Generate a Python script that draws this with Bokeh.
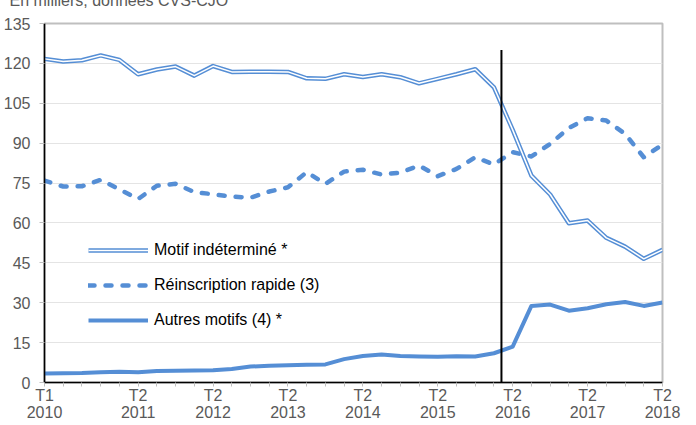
from bokeh.plotting import figure
from bokeh.models import FixedTicker, Legend, LegendItem, Range1d
from bokeh.embed import file_html
from bokeh.resources import INLINE

# ---- data -------------------------------------------------------------
years = list(range(2010, 2019))
quarters = [f"T{q} {y}" for y in years for q in (1, 2, 3, 4)][:34]  # T1 2010 .. T2 2018

motif_indetermine = [121.7, 120.7, 121.2, 123.0, 121.3, 115.9, 117.7, 118.8, 115.4, 119.0,
                     116.8, 116.9, 116.9, 116.8, 114.4, 114.2, 115.9, 114.9, 115.9, 114.8,
                     112.5, 114.2, 115.9, 117.8, 111.0, 95.0, 77.8, 70.7, 59.9, 60.9,
                     54.4, 51.1, 46.5, 49.9]
reinscription_rapide = [75.9, 73.7, 73.8, 76.2, 72.6, 69.0, 74.0, 74.7, 71.6, 70.8,
                        69.9, 69.5, 71.8, 73.4, 79.1, 74.7, 79.3, 80.0, 78.2, 78.9,
                        81.6, 77.6, 80.3, 84.7, 82.0, 86.6, 85.0, 89.7, 95.7, 99.4,
                        98.5, 93.5, 84.7, 89.5]
autres_motifs = [3.4, 3.5, 3.6, 3.9, 4.0, 3.9, 4.3, 4.4, 4.5, 4.6,
                 5.1, 6.0, 6.3, 6.5, 6.7, 6.8, 8.8, 10.0, 10.5, 10.0,
                 9.8, 9.7, 9.9, 9.8, 11.0, 13.5, 28.8, 29.3, 27.0, 27.9,
                 29.4, 30.3, 28.8, 30.1]

series_names = ["Motif indéterminé *", "Réinscription rapide (3)", "Autres motifs (4) *"]
x_tick_labels = {"T1 2010": "T1\n2010", "T2 2011": "T2\n2011", "T2 2012": "T2\n2012",
                 "T2 2013": "T2\n2013", "T2 2014": "T2\n2014", "T2 2015": "T2\n2015",
                 "T2 2016": "T2\n2016", "T2 2017": "T2\n2017", "T2 2018": "T2\n2018"}
y_ticks = [0, 15, 30, 45, 60, 75, 90, 105, 120, 135]
marker_x = [24.4]      # vertical marker (quarter position)
marker_top = [125]
marker_bottom = [0]
subtitle = "En milliers, données CVS-CJO"

# ---- figure -----------------------------------------------------------
FONT = "Liberation Sans"
BLUE = "#558ED5"
xs = list(range(len(quarters)))
SHIFT = 30   # canvas starts above the window top so the subtitle is cut like the original

p = figure(width=696, height=425 + SHIFT, output_backend="svg", toolbar_location=None,
           x_range=Range1d(0, len(quarters) - 1), y_range=Range1d(0, 135),
           min_border_left=43, min_border_right=34, min_border_top=23 + SHIFT,
           min_border_bottom=43,
           background_fill_color="white", border_fill_color="white")
p.margin = (-SHIFT, 0, 0, 0)

p.title.text = subtitle
p.title.align = "left"
p.title.offset = -35
p.title.standoff = 29
p.title.vertical_align = "bottom"
p.title.text_font = FONT
p.title.text_font_size = "16px"
p.title.text_font_style = "normal"
p.title.text_color = "#595959"

p.xgrid.visible = False
p.ygrid.ticker = FixedTicker(ticks=y_ticks)
p.ygrid.grid_line_color = "#e4e4e4"
p.ygrid.grid_line_width = 1
p.outline_line_color = "#bfbfbf"
p.outline_line_width = 2

# axes
p.xaxis.ticker = FixedTicker(ticks=xs)
p.xaxis.major_label_overrides = {i: x_tick_labels.get(q, "") for i, q in enumerate(quarters)}
p.yaxis.ticker = FixedTicker(ticks=y_ticks)
for ax in (p.xaxis[0], p.yaxis[0]):
    ax.axis_line_color = "black"
    ax.axis_line_width = 1.6
    ax.major_tick_line_color = "#bfbfbf"
    ax.major_tick_line_width = 1
    ax.major_tick_in = 0
    ax.minor_tick_out = 0
    ax.minor_tick_in = 0
    ax.major_label_text_font = FONT
    ax.major_label_text_font_size = "16px"
    ax.major_label_text_color = "#595959"
p.xaxis.major_tick_out = 4
p.xaxis.major_label_standoff = 0
p.xaxis.major_label_text_line_height = 1.0
p.yaxis.major_tick_out = 5
p.yaxis.major_label_standoff = 9

# lines
r_m1 = p.line(xs, motif_indetermine, line_color=BLUE, line_width=4.5, line_join="round")
r_m2 = p.line(xs, motif_indetermine, line_color="white", line_width=1.5, line_join="round")
r_r = p.line(xs, reinscription_rapide, line_color=BLUE, line_width=4.5, line_dash="6 11",
             line_cap="round", line_join="round")
r_a = p.line(xs, autres_motifs, line_color=BLUE, line_width=4, line_join="round")

p.segment(x0=marker_x, y0=marker_bottom, x1=marker_x, y1=marker_top,
          line_color="black", line_width=2)

legend = Legend(items=[LegendItem(label=series_names[0], renderers=[r_m1, r_m2]),
                       LegendItem(label=series_names[1], renderers=[r_r]),
                       LegendItem(label=series_names[2], renderers=[r_a])],
                location=(44, 52), orientation="vertical",
                glyph_width=60, glyph_height=20, label_height=20, spacing=15,
                label_standoff=6, padding=0, margin=0,
                border_line_alpha=0, background_fill_alpha=0,
                label_text_font=FONT, label_text_font_size="16px", label_text_color="black")
p.add_layout(legend, "center")

open("out.html", "w").write(file_html(p, INLINE))
